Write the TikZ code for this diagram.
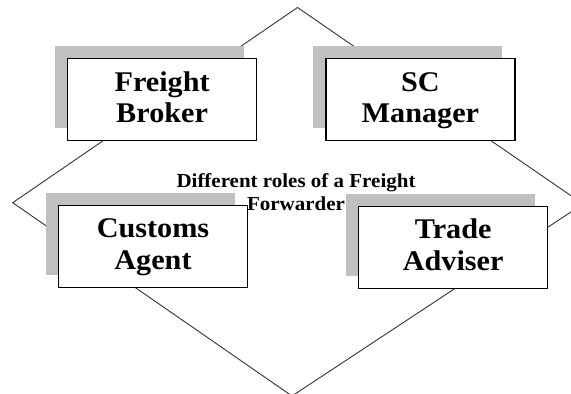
\documentclass[tikz,border=0pt]{standalone}
\usepackage{fontspec}
\setmainfont{Liberation Serif}
\newfontfamily\widefont[FakeStretch=1.06]{Liberation Serif}
\usetikzlibrary{shadows}
\definecolor{shadowgray}{RGB}{192,192,192}
\definecolor{edgegray}{RGB}{51,51,51}
\begin{document}
\begin{tikzpicture}[x=1pt,y=-1pt,
  rolebox/.style={draw=black, line width=1.2pt, fill=white,
    minimum width=189pt, minimum height=82pt, inner sep=0pt,
    align=center, font=\widefont\fontsize{28.5}{31.5}\selectfont\bfseries,
    text height=51.4pt, text depth=6pt,
    general shadow={fill=shadowgray, shadow xshift=-13pt, shadow yshift=13pt}},
  hub/.style={align=center, font=\widefont\fontsize{19.8}{22.5}\selectfont\bfseries,
    inner sep=0pt, text height=37.5pt, text depth=5pt},
  rim/.style={draw=edgegray, line width=0.9pt}]
\useasboundingbox (0,0) rectangle (571,394);
\clip (0,0) rectangle (571,394);
% the diamond frame behind the four roles
\coordinate (top) at (297.5,7.5);
\coordinate (right) at (583,204);
\coordinate (bottom) at (292,396);
\coordinate (left) at (12.7,202.7);
\draw[rim] (top) -- (right) -- (bottom) -- (left) -- cycle;
% central caption
\node[hub] (hub) at (296,193.75) {Different roles of a Freight\\Forwarder};
% the four roles
\node[rolebox] (broker)  at (162.1,99.85) {Freight\\Broker};
\node[rolebox] (manager) at (420.4,99.85) {SC\\Manager};
\node[rolebox] (customs) at (153,246.5)   {Customs\\Agent};
\node[rolebox] (adviser) at (453.2,247.5) {Trade\\Adviser};
\end{tikzpicture}
\end{document}
